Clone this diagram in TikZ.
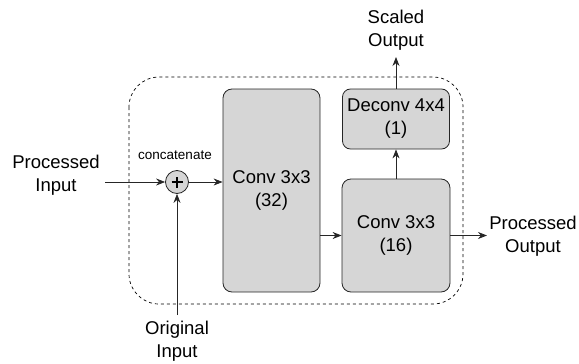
\documentclass[tikz,border=0pt]{standalone}
\usepackage{fontspec}
\setmainfont{Liberation Sans}
\usetikzlibrary{arrows.meta}
\tikzset{
  layer/.style={draw=black!85,fill=black!16,rounded corners=9pt,align=center,line width=0.8pt,inner sep=0pt},
  lbl/.style={align=center,font=\fontsize{18.5}{23}\selectfont},
  arr/.style={-{Stealth[length=9pt,width=7pt]},line width=0.8pt,black!85}
}
\begin{document}
\begin{tikzpicture}[x=1pt,y=-1pt]
\useasboundingbox (0,0) rectangle (579,364);
\draw[dashed,line width=0.7pt,rounded corners=30pt] (129,77) rectangle (463,304);
\node[layer,minimum width=97pt,minimum height=203pt,font=\fontsize{18.5}{23}\selectfont] (conv32) at (271.5,190.5) {Conv 3x3\\(32)};
\node[layer,minimum width=108pt,minimum height=113pt,font=\fontsize{18.5}{23}\selectfont] (conv16) at (396,235.5) {Conv 3x3\\(16)};
\node[layer,minimum width=107pt,minimum height=60pt,rounded corners=8pt,font=\fontsize{18.5}{23}\selectfont] (deconv) at (396,119) {Deconv 4x4\\(1)};
\node[circle,draw=black!85,fill=black!16,line width=0.8pt,minimum size=23pt,inner sep=0pt] (plus) at (177,182) {};
\draw[line width=1.6pt] ([xshift=-5.5pt]plus.center) -- ([xshift=5.5pt]plus.center)
  ([yshift=-5.5pt]plus.center) -- ([yshift=5.5pt]plus.center);
\node[font=\fontsize{13.5}{16}\selectfont] (cat) at (175,155) {concatenate};
% inputs
\node[lbl] (pinl) at (56,175) {Processed\\Input};
\node[lbl] (oinl) at (177,341) {Original\\Input};
\coordinate (pin) at (105,182);
\coordinate (oin) at (177,315);
\draw[arr] (pin) -- (plus.west);
\draw[arr] (oin) -- (plus.south);
\draw[arr] (plus.east) -- (plus -| conv32.west);
\draw[arr] (conv32.east |- conv16.west) -- (conv16.west);
\draw[arr] (conv16.north) -- (deconv.south);
% outputs
\node[lbl] (soutl) at (396,30) {Scaled\\Output};
\node[lbl] (poutl) at (533,236) {Processed\\Output};
\coordinate (sout) at (396,57);
\coordinate (pout) at (487,235.5);
\draw[arr] (deconv.north) -- (sout);
\draw[arr] (conv16.east) -- (pout);
\end{tikzpicture}
\end{document}
